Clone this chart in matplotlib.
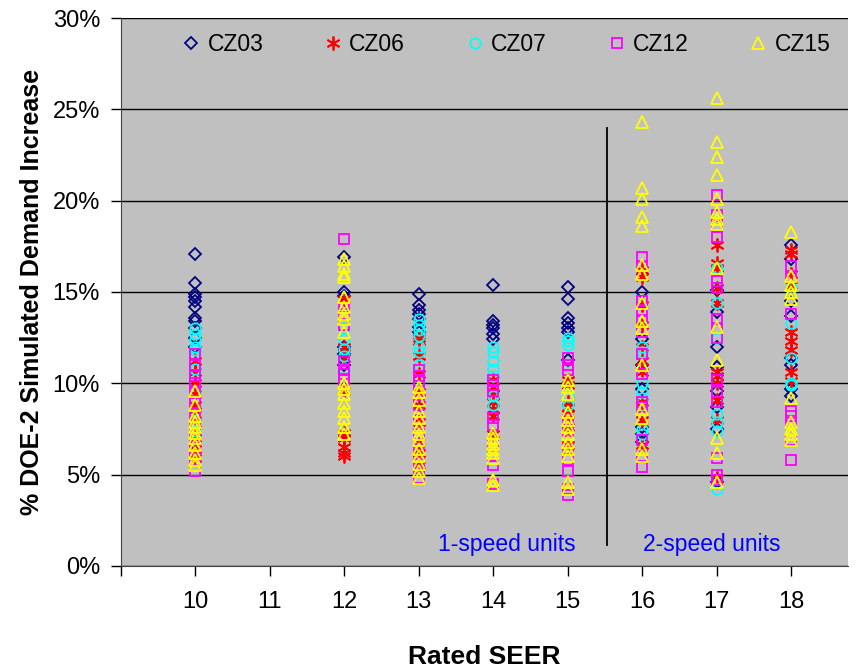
import matplotlib
matplotlib.use('Agg')
import matplotlib.pyplot as plt
from matplotlib.ticker import FuncFormatter, MultipleLocator

plt.rcParams['font.family'] = ['Liberation Sans', 'DejaVu Sans']

# % DOE-2 simulated demand increase, keyed by rated SEER
cz03 = {10: [17.1, 15.5, 14.9, 14.7, 14.5, 14.2, 13.6, 13.4, 13.0, 12.5, 12.0],
        12: [16.9, 15.0, 14.8, 12.0, 11.6, 11.0],
        13: [14.9, 14.3, 14.0, 13.8, 13.5, 13.1, 12.8],
        14: [15.4, 13.4, 13.2, 13.0, 12.7, 12.4],
        15: [15.3, 14.6, 13.6, 13.3, 13.0, 12.8, 11.3],
        16: [15.0, 12.4, 11.0, 9.7, 7.6, 7.2, 6.8],
        17: [15.1, 13.9, 12.0, 10.9, 9.6, 8.7, 7.5, 4.6],
        18: [17.6, 16.8, 14.5, 13.7, 11.4, 11.0, 9.7, 9.3]}
cz06 = {10: [11.2, 10.6, 10.0, 9.4, 8.8, 8.3, 7.8, 7.0, 6.4, 5.9],
        12: [14.6, 12.0, 11.7, 11.4, 9.6, 7.3, 7.0, 6.5, 6.2, 6.0],
        13: [12.5, 12.3, 11.5, 10.5, 9.5, 8.8, 7.9, 6.8, 6.2, 5.5],
        14: [10.2, 9.8, 9.4, 9.0, 8.6, 8.2, 7.2],
        15: [10.2, 9.9, 9.0, 8.7, 8.3, 7.6, 6.6],
        16: [16.2, 15.8, 14.3, 13.2, 12.0, 11.2, 10.6, 9.0, 8.0, 6.6],
        17: [17.6, 16.6, 16.3, 15.2, 14.4, 10.6, 10.4, 10.0, 9.1, 8.0, 4.8],
        18: [17.3, 17.1, 16.0, 15.4, 12.8, 12.3, 11.8, 10.6, 10.1]}
cz07 = {10: [13.0, 12.7, 12.4, 12.0, 11.8, 10.8, 9.6, 8.0, 7.4],
        12: [13.0, 12.4, 11.9, 11.5, 10.8],
        13: [13.5, 13.2, 12.9, 12.6, 12.0, 11.7, 11.0],
        14: [12.0, 11.7, 11.2, 10.8, 10.4, 9.3, 8.8],
        15: [12.5, 12.3, 12.1, 9.3, 8.8],
        16: [12.0, 11.7, 10.0, 9.5, 9.2, 7.5, 7.2],
        17: [16.3, 14.4, 12.5, 8.3, 7.9, 7.4, 4.2],
        18: [15.2, 13.3, 11.4, 10.0, 9.9]}
cz12 = {10: [11.6, 11.0, 10.4, 10.0, 9.6, 8.9, 8.3, 7.5, 7.0, 6.4, 5.8, 5.2],
        12: [17.9, 14.2, 13.8, 13.2, 11.2, 10.8, 10.5, 10.2],
        13: [10.7, 10.4, 10.1, 9.6, 8.8, 8.0, 7.2, 6.4, 5.6, 5.2, 4.8],
        14: [10.2, 9.9, 9.6, 8.1, 7.7, 6.7, 6.0, 5.5, 4.5],
        15: [11.4, 11.0, 10.7, 8.0, 7.4, 6.4, 5.8, 5.2, 4.2, 3.9],
        16: [16.9, 16.4, 14.5, 14.0, 13.4, 12.8, 11.6, 10.5, 9.0, 8.7, 6.9, 6.0, 5.4],
        17: [20.3, 19.2, 18.6, 18.0, 15.6, 15.2, 13.5, 13.0, 12.5, 10.2, 9.5, 9.0,
             5.9, 5.0, 4.7],
        18: [16.4, 15.8, 13.8, 8.5, 8.2, 7.8, 6.9, 5.8]}
cz15 = {10: [9.6, 8.8, 8.2, 7.9, 7.6, 7.3, 7.0, 6.6, 6.2, 5.8, 5.5],
        12: [16.8, 16.4, 16.0, 15.8, 14.7, 14.2, 13.8, 13.5, 12.8, 10.0, 9.7, 9.4,
             8.9, 8.5, 8.1, 7.6, 7.2],
        13: [9.8, 9.5, 9.1, 8.5, 8.1, 7.6, 7.2, 6.9, 6.4, 6.0, 5.6, 5.2, 4.8],
        14: [7.3, 7.0, 6.7, 6.4, 6.2, 5.9, 4.7, 4.4],
        15: [10.2, 9.8, 9.4, 8.4, 8.0, 7.6, 7.2, 6.8, 6.4, 6.0, 4.6, 4.2],
        16: [24.3, 20.7, 20.1, 19.1, 18.6, 16.5, 16.0, 14.4, 13.4, 13.0, 11.0, 8.6,
             8.1, 6.4, 6.0],
        17: [25.6, 23.2, 22.4, 21.4, 20.1, 19.4, 19.0, 18.7, 16.3, 13.1, 11.3, 7.0,
             6.2, 4.6],
        18: [18.3, 15.9, 15.4, 15.0, 14.6, 9.2, 7.9, 7.5, 7.2, 6.9]}

seerTicks = [10, 11, 12, 13, 14, 15, 16, 17, 18]
divideSeer = 15.52
divideRange = [1.15, 24.0]

series = [('CZ03', cz03, 'D', '#000080', 6.0),
          ('CZ06', cz06, (6, 2, 0), '#FF0000', 10),
          ('CZ07', cz07, 'o', '#00FFFF', 7.5),
          ('CZ12', cz12, 's', '#FF00FF', 7),
          ('CZ15', cz15, '^', '#FFFF00', 8.5)]

fig = plt.figure(figsize=(8.57, 6.72), dpi=100)
ax = fig.add_axes([0.141, 0.158, 0.8485, 0.815])
ax.set_facecolor('#C0C0C0')

for name, data, mk, col, ms in series:
	xs = []
	ys = []
	for seer in data:
		for v in data[seer]:
			xs.append(seer)
			ys.append(v)
	ax.plot(xs, ys, linestyle='none', marker=mk, markersize=ms,
		markerfacecolor='none', markeredgecolor=col, markeredgewidth=1.3,
		label=name, clip_on=False)

ax.plot([divideSeer, divideSeer], divideRange, color='black', linewidth=1.3)
ax.text(14.18, 1.15, '1-speed units', color='#0000FF', fontsize=16.5,
	ha='center', va='center')
ax.text(16.93, 1.15, '2-speed units', color='#0000FF', fontsize=16.5,
	ha='center', va='center')

ax.set_xlim(9, 18.76)
ax.set_ylim(0, 30)
ax.set_xticks([9] + seerTicks)
ax.set_xticklabels([''] + [str(s) for s in seerTicks])
ax.yaxis.set_major_locator(MultipleLocator(5))
ax.yaxis.set_major_formatter(FuncFormatter(lambda v, p: '%d%%' % v))
ax.grid(axis='y', color='black', linewidth=1.0)
ax.set_axisbelow(True)
ax.tick_params(axis='both', direction='out', length=7, width=1, labelsize=17)
ax.tick_params(axis='x', pad=11)
ax.tick_params(axis='y', pad=8)
for s in ['top', 'right']:
	ax.spines[s].set_visible(False)
ax.spines['left'].set_color('#404040')
ax.spines['bottom'].set_color('#404040')

ax.set_xlabel('Rated SEER', fontsize=19, fontweight='bold', labelpad=23)
ax.set_ylabel('% DOE-2 Simulated Demand Increase', fontsize=18,
	fontweight='bold', labelpad=6)

ax.legend(loc='center', bbox_to_anchor=(0.53, 0.951), ncol=5, frameon=False,
	fontsize=16.5, handlelength=0.8, handletextpad=0.3, columnspacing=2.65,
	borderpad=0)

fig.savefig('out.png', dpi=100)
